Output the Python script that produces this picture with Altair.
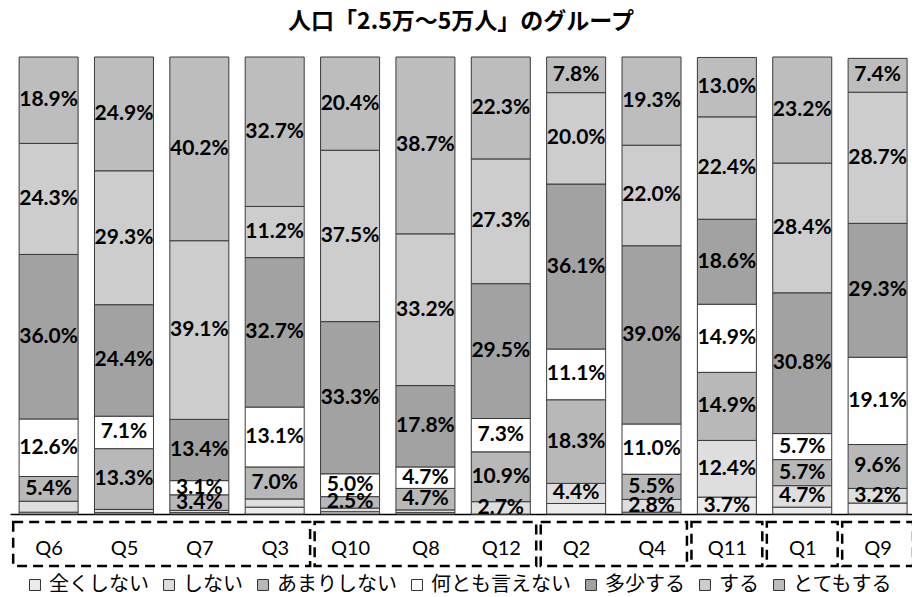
import json
import altair as alt
import pandas as pd

# Questions in display order and their grouping
questions = ["Q6", "Q5", "Q7", "Q3", "Q10", "Q8", "Q12", "Q2", "Q4", "Q11", "Q1", "Q9"]
groups = [["Q6", "Q5", "Q7", "Q3"], ["Q10", "Q8", "Q12"], ["Q2", "Q4"], ["Q11"], ["Q1"], ["Q9"]]

# Answer categories, stacked from the bottom up
answers = ["全くしない", "しない", "あまりしない", "何とも言えない", "多少する", "する", "とてもする"]

# Share of each answer (%) per question, in the order of `questions`
zen_shinai = [0.4, 0.3, 0.3, 1.5, 0.5, 0.3, 0.0, 2.3, 0.4, 3.7, 1.5, 2.4]
shinai = [2.4, 0.7, 0.5, 1.8, 0.8, 0.6, 2.7, 4.4, 2.8, 12.4, 4.7, 3.2]
amari = [5.4, 13.3, 3.4, 7.0, 2.5, 4.7, 10.9, 18.3, 5.5, 14.9, 5.7, 9.6]
nantomo = [12.6, 7.1, 3.1, 13.1, 5.0, 4.7, 7.3, 11.1, 11.0, 14.9, 5.7, 19.1]
tashou = [36.0, 24.4, 13.4, 32.7, 33.3, 17.8, 29.5, 36.1, 39.0, 18.6, 30.8, 29.3]
suru = [24.3, 29.3, 39.1, 11.2, 37.5, 33.2, 27.3, 20.0, 22.0, 22.4, 28.4, 28.7]
totemo = [18.9, 24.9, 40.2, 32.7, 20.4, 38.7, 22.3, 7.8, 19.3, 13.0, 23.2, 7.4]

series = [zen_shinai, shinai, amari, nantomo, tashou, suru, totemo]
fills = ["#ececec", "#dedede", "#b8b8b8", "#ffffff", "#a2a2a2", "#cdcdcd", "#bdbdbd"]

rows = []
for qi, q in enumerate(questions):
    base = 0.0
    for k, (ans, vals) in enumerate(zip(answers, series)):
        v = vals[qi]
        rows.append({
            "q": q, "i": qi, "ans": ans, "k": k, "v": v,
            "y0": base, "y1": base + v, "mid": base + v / 2,
            "label": f"{v:.1f}%" if v >= 2.5 else "",
        })
        base += v
df = pd.DataFrame(rows)

box_rows = []
for g in groups:
    box_rows.append({"a": questions.index(g[0]) - 0.47, "b": questions.index(g[-1]) + 0.47})
boxes = pd.DataFrame(box_rows)

xscale = alt.Scale(domain=[-0.446, 11.39], nice=False, zero=False)
yscale = alt.Scale(domain=[0, 100], nice=False)

bars = alt.Chart(df).mark_bar(size=59, stroke="#3a3a3a", strokeWidth=1).encode(
    x=alt.X("i:Q", scale=xscale, title=None,
            axis=alt.Axis(values=list(range(len(questions))),
                          labelExpr=f"{json.dumps(questions)}[datum.value]",
                          ticks=False, grid=False, domainColor="#000000", domainWidth=1.5,
                          labelFont="Lato", labelFontSize=20, labelColor="#000000",
                          labelPadding=24, labelFlush=False)),
    y=alt.Y("y1:Q", scale=yscale, axis=None),
    y2="y0:Q",
    color=alt.Color("ans:N", scale=alt.Scale(domain=answers, range=fills),
                    legend=alt.Legend(orient="none", legendX=15, legendY=518,
                                      direction="horizontal", columns=7, title=None,
                                      symbolType="square", symbolSize=120,
                                      symbolStrokeColor="#333333", symbolStrokeWidth=1,
                                      labelFont="Noto Sans CJK JP", labelFontSize=20,
                                      labelColor="#000000", labelOffset=4,
                                      columnPadding=10, labelLimit=300)),
    order=alt.Order("k:Q"),
)

labels = alt.Chart(df).mark_text(font="Lato", fontSize=21, fontWeight="bold", color="#000000").encode(
    x=alt.X("i:Q", scale=xscale),
    y=alt.Y("mid:Q", scale=yscale),
    text="label:N",
)

group_boxes = alt.Chart(boxes).mark_rect(fill=None, stroke="#000000", strokeWidth=2.5,
                                         strokeDash=[10, 6]).encode(
    x=alt.X("a:Q", scale=xscale),
    x2="b:Q",
    y=alt.value(465),
    y2=alt.value(509),
)

chart = alt.layer(bars, labels, group_boxes).properties(
    width=902,
    height=457,
    title=alt.Title("人口「2.5万～5万人」のグループ", font="Noto Sans CJK JP", fontSize=23,
                    fontWeight="bold", color="#000000", offset=23, anchor="middle"),
    autosize="none",
    padding={"left": 10, "top": 57, "right": 0, "bottom": 83},
).configure_view(stroke=None)

chart.save("out.html", embed_options={"renderer": "svg", "actions": False})
